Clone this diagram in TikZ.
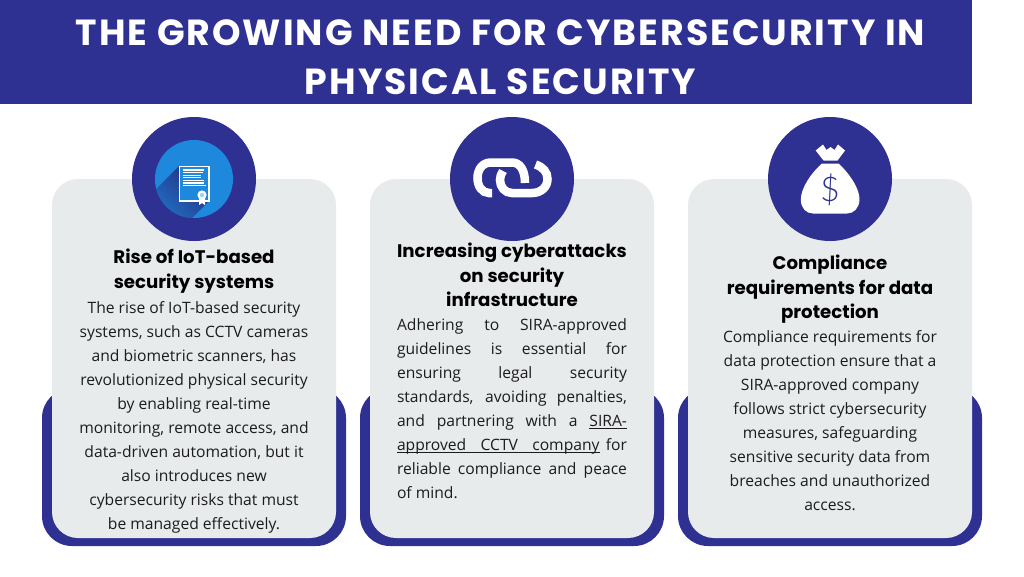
\documentclass[tikz,border=0pt]{standalone}
\usepackage{fontspec}
\setmainfont{Open Sans}
\newfontfamily\poptitle[LetterSpace=5.5]{Poppins}
\newfontfamily\pophead{Poppins}
\usetikzlibrary{shadings}
\definecolor{navy}{HTML}{2E3192}
\definecolor{cardgray}{HTML}{E8EBEC}
\definecolor{skyb}{HTML}{1E88DC}
\definecolor{inkc}{HTML}{1C1C1C}
\newcommand\ulw[1]{\setbox0\hbox{#1}\rlap{\vrule width\wd0 height -2.2pt depth 3pt}\box0 }
\newcommand\ulgap{\leaders\hrule height -2.2pt depth 3pt\hskip 0.26em plus .6em minus .1em\relax}
\tikzset{
  x=1pt,y=-1pt,
  backing/.style={fill=navy,rounded corners=30pt},
  card/.style={fill=cardgray,rounded corners=26pt},
  disc/.style={fill=navy,circle,minimum size=124pt,inner sep=0pt},
  titletext/.style={text=white,align=center,inner sep=0pt,font={\fontsize{36.3}{49}\poptitle\bfseries}},
  headtext/.style={text=black,align=center,inner sep=0pt,font={\fontsize{18.2}{24.4}\pophead\bfseries}},
  bodytext/.style={text=inkc,align=center,inner sep=0pt,font={\fontsize{15.65}{24}\selectfont}},
  justtext/.style={bodytext,align=justify,text width=230pt},
  linkstroke/.style={draw=white,line width=8.5pt,line cap=butt},
}
\begin{document}
\begin{tikzpicture}
\useasboundingbox[fill=white] (0,0) rectangle (1024,576);
\fill[navy] (0,0) rectangle (972,104);
\node[titletext,anchor=center] (title) at (500.5,57) {THE GROWING NEED FOR CYBERSECURITY IN\\PHYSICAL SECURITY};

% backings and cards
\foreach \l in {42,360,678}{
  \fill[backing] (\l,388) rectangle ++(304,158);
  \fill[card] (\l+10,179) rectangle ++(284,359);
}
\node[disc] (d1) at (194,179) {};
\node[disc] (d2) at (512,179) {};
\node[disc] (d3) at (830,179) {};

% certificate icon
\fill[skyb] (d1) circle (39);
\begin{scope}
  \clip (d1) circle (39);
  \shade[left color=navy!85!black,right color=skyb,shading angle=-45,opacity=.9]
    (179,166) -- (209,201) -- (169,241) -- (139,206) -- cycle;
\end{scope}
\fill[skyb] (179,166) rectangle (209,201);
\draw[white,line width=1.4pt] (179.5,166.5) rectangle (209,201);
\foreach \yy/\xe in {170/204,172.6/203,175.2/201,177.8/201,180.4/204,183/204,185.6/206}{
  \draw[white,line width=1.3pt] (182.5,\yy) -- (\xe,\yy);
}
\fill[white] (199,198) -- (199,205) -- (202,203) -- (205,205) -- (205,198) -- cycle;
\fill[white] (202,195) circle (4.6);
\fill[skyb!40!white] (202,195) circle (2.2);

% chain icon
\draw[linkstroke] (492,193) -- (489,193) .. controls (482,193) and (477.5,186) .. (477.5,178) .. controls (477.5,170) and (482,162.5) .. (491,162.5) -- (512,162.5) .. controls (520,162.5) and (525,170) .. (525,183);
\draw[linkstroke] (535.5,164.5) .. controls (543,167) and (547.5,172) .. (547.5,179) .. controls (547.5,187) and (541,193) .. (532,193) -- (512,193) .. controls (505,193) and (500,187) .. (500,180) .. controls (500,176.5) and (501,174) .. (503,171);

% money bag icon
\fill[white] (822,163.5) -- (838.5,163.5) .. controls (848,172) and (860,188) .. (859.5,200) .. controls (859,208) and (854,213.5) .. (847,213.5) -- (813,213.5) .. controls (806,213.5) and (801,208) .. (800.8,200) .. controls (800.5,188) and (812,172) .. (822,163.5) -- cycle;
\fill[white] (815.7,150.5) -- (823,144.5) -- (826.5,150) -- (830.5,147) -- (834.5,150) -- (838,144.5) -- (845,150.5) -- (837.5,160.5) -- (823.5,160.5) -- cycle;
\node[text=navy,inner sep=0pt,font={\fontsize{34}{34}\fontspec{Lato Light}}] (dollar) at (830,190) {\$};

% card 1 text
\node[headtext,anchor=north] (h1) at (194,249) {Rise of IoT-based\\security systems};
\node[bodytext,anchor=north] (b1) at (194,301) {The rise of IoT-based security\\systems, such as CCTV cameras\\and biometric scanners, has\\revolutionized physical security\\by enabling real-time\\monitoring, remote access, and\\data-driven automation, but it\\also introduces new\\cybersecurity risks that must\\be managed effectively.};

% card 2 text
\node[headtext,anchor=north] (h2) at (512,243) {Increasing cyberattacks\\on security\\infrastructure};
\node[justtext,anchor=north] (b2) at (512,318) {Adhering to SIRA-approved\linebreak guidelines is essential for\linebreak ensuring legal security\linebreak standards, avoiding penalties,\linebreak and partnering with a \ulw{SIRA-}\linebreak \ulw{approved}\ulgap\ulw{CCTV}\ulgap\ulw{company} for\linebreak reliable compliance and peace\linebreak of mind.};

% card 3 text
\node[headtext,anchor=north] (h3) at (830,255) {Compliance\\requirements for data\\protection};
\node[bodytext,anchor=north] (b3) at (830,330) {Compliance requirements for\\data protection ensure that a\\SIRA-approved company\\follows strict cybersecurity\\measures, safeguarding\\sensitive security data from\\breaches and unauthorized\\access.};
\end{tikzpicture}
\end{document}
